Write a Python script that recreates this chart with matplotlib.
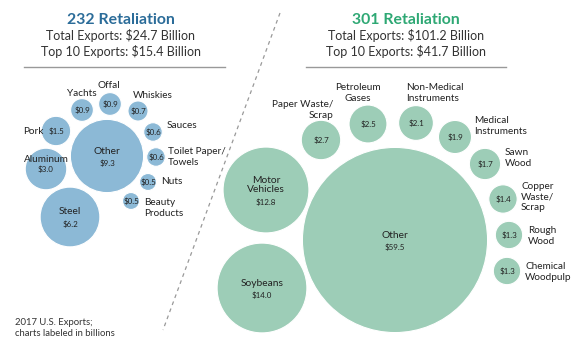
import matplotlib
matplotlib.use("Agg")
import matplotlib.pyplot as plt
from matplotlib.patches import Circle
import numpy as np

plt.rcParams['font.family'] = ['Lato', 'DejaVu Sans']

# data: 2017 U.S. exports under retaliation, billions
names_232 = ["Other", "Steel", "Aluminum", "Pork", "Yachts", "Offal", "Whiskies",
             "Sauces", "Toilet Paper/\nTowels", "Nuts", "Beauty\nProducts"]
values_232 = [9.3, 6.2, 3.0, 1.5, 0.9, 0.9, 0.7, 0.6, 0.6, 0.5, 0.5]

names_301 = ["Other", "Soybeans", "Motor\nVehicles", "Paper Waste/\nScrap", "Petroleum\nGases",
             "Non-Medical\nInstruments", "Medical\nInstruments", "Sawn\nWood",
             "Copper\nWaste/\nScrap", "Rough\nWood", "Chemical\nWoodpulp"]
values_301 = [59.5, 14.0, 12.8, 2.7, 2.5, 2.1, 1.9, 1.7, 1.4, 1.3, 1.3]

titles = ["232 Retaliation", "301 Retaliation"]
totals = ["$24.7", "$101.2"]
top10 = ["$15.4", "$41.7"]

# layout (pixel coords, y down)
# center, label mode: 'in' = name inside, else (x, y, ha)
centers_232 = [(107, 156), (70, 217), (46, 169), (56, 131), (82, 110), (110, 104),
               (138, 111), (153, 132), (156, 157), (148, 182), (131, 201)]
labels_232 = ['in', 'in', (46, 160, 'center'), (43, 131, 'right'), (82, 94, 'center'),
              (109, 86, 'center'), (133, 95, 'left'), (167, 126, 'left'),
              (168, 157, 'left'), (161, 182, 'left'), (144, 208, 'left')]

centers_301 = [(395, 240), (262, 288), (266, 190), (321, 140), (368, 124), (416, 123),
               (455, 137), (485, 164), (503, 199), (509, 235), (507, 271)]
labels_301 = ['in', 'in', 'in', (333, 110, 'right'), (358, 93, 'center'),
              (406, 93, 'left'), (474, 126, 'left'), (505, 158, 'left'),
              (521, 197, 'left'), (528, 236, 'left'), (525, 272, 'left')]

scale = 12.0  # px radius per sqrt(billion)

fig = plt.figure(figsize=(5.76, 3.46), dpi=100)
ax = fig.add_axes([0, 0, 1, 1])
ax.set_xlim(0, 576)
ax.set_ylim(346, 0)
ax.set_aspect('equal')
ax.axis('off')

def draw_group(names, values, centers, labels, color):
    for name, v, c, lab in zip(names, values, centers, labels):
        r = scale * np.sqrt(v)
        ax.add_patch(Circle(c, r, facecolor=color, edgecolor='white', lw=0.8))
        money = "$%.1f" % v
        if lab == 'in':
            nl = name.count("\n")
            ax.text(c[0], c[1] - 5, name, ha='center', va='center',
                    fontsize=7.4, color='#222222', linespacing=1.1)
            ax.text(c[0], c[1] + 7 + nl * 5, money, ha='center', va='center',
                    fontsize=5.8, color='#222222')
        else:
            ax.text(c[0], c[1], money, ha='center', va='center',
                    fontsize=5.8, color='#222222')
            x, y, ha = lab
            ax.text(x, y, name, ha=ha, va='center', fontsize=7.2,
                    color='#222222', linespacing=1.2)

draw_group(names_232, values_232, centers_232, labels_232, '#8cb9d6')
draw_group(names_301, values_301, centers_301, labels_301, '#9dcdb7')

# headers
title_colors = ['#2b6c99', '#2ea874']
for cx, x0, x1, t, tot, tp, col in zip([121, 406], [24, 306], [225, 506],
                                       titles, totals, top10, title_colors):
    ax.text(cx, 20, t, ha='center', va='center', fontsize=11.4,
            fontweight='bold', color=col)
    ax.text(cx, 36, "Total Exports: %s Billion" % tot, ha='center', va='center',
            fontsize=9.0, color='#333333')
    ax.text(cx, 52, "Top 10 Exports: %s Billion" % tp, ha='center', va='center',
            fontsize=9.0, color='#333333')
    ax.plot([x0, x1], [67, 67], color='#999999', lw=1)

# divider
ax.plot([280, 163], [13, 330], color='#999999', lw=0.9, ls=(0, (3, 3)))

ax.text(15, 328, "2017 U.S. Exports;\ncharts labeled in billions", ha='left',
        va='center', fontsize=6.8, color='#333333', linespacing=1.15)

fig.savefig("out.png", dpi=100)
